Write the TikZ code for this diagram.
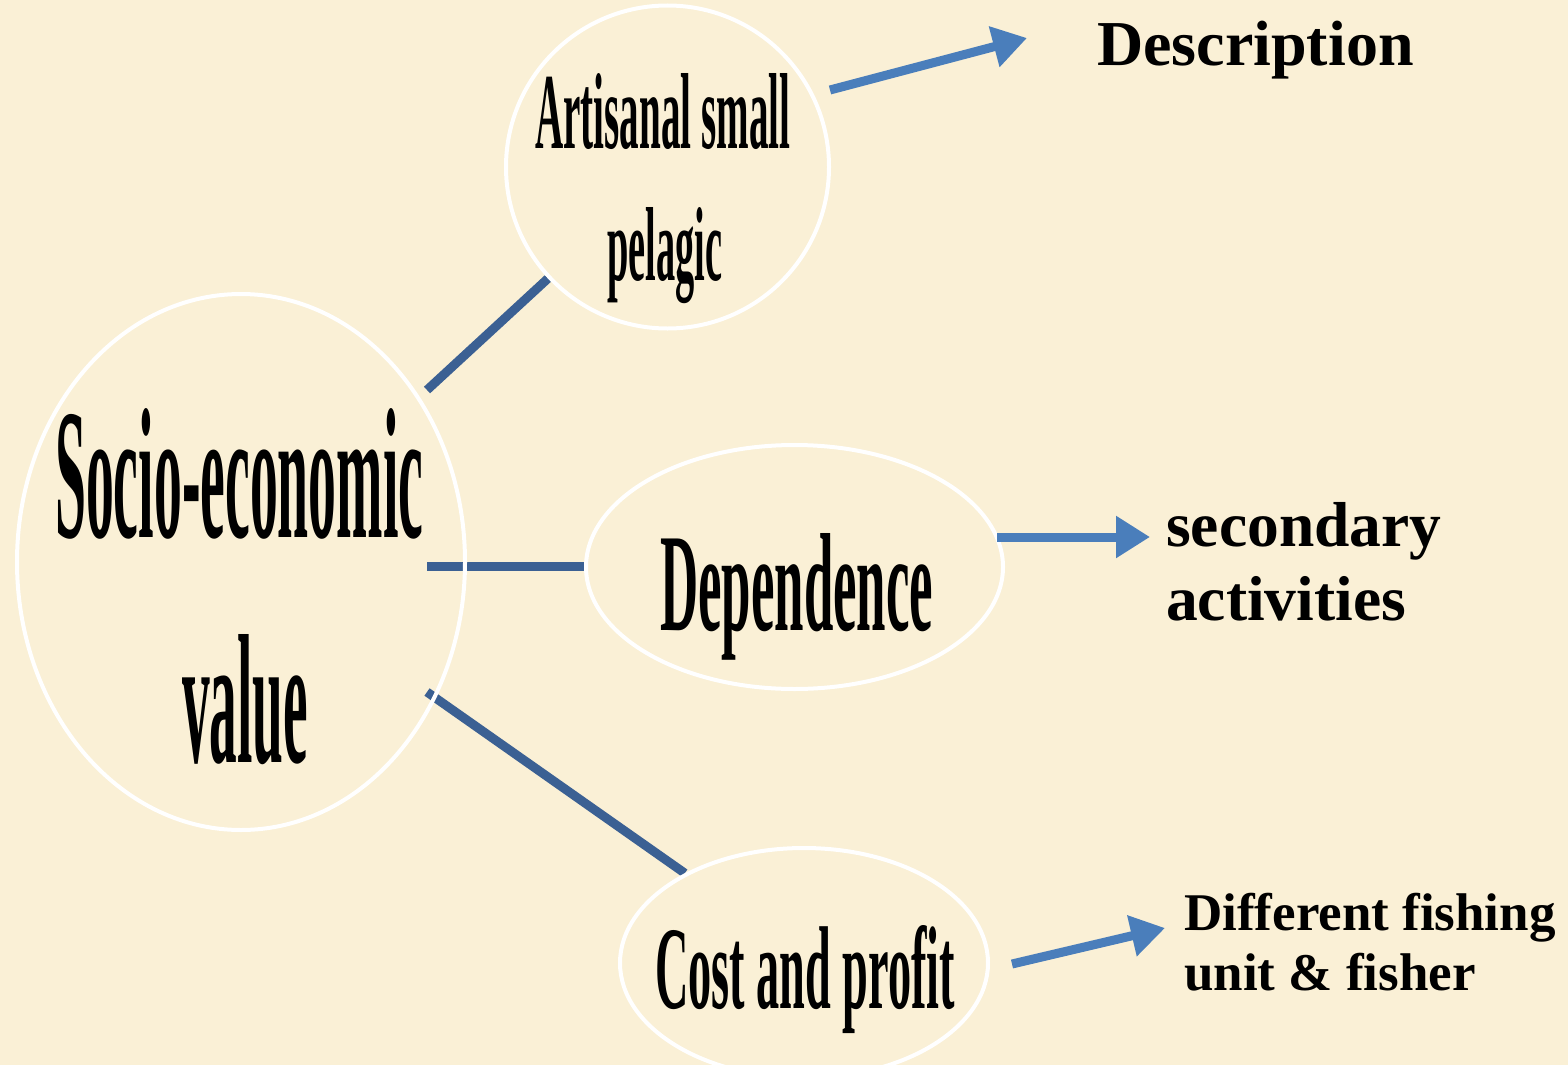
\documentclass[tikz,border=0pt]{standalone}
\usepackage{fontspec}
\setmainfont{Liberation Serif}
\usetikzlibrary{arrows.meta,shapes.geometric}
\pgfdeclarelayer{bg}
\pgfdeclarelayer{lines}
\pgfsetlayers{bg,lines,main}
\definecolor{paper}{RGB}{250,240,214}
\definecolor{linkblue}{RGB}{59,96,147}
\definecolor{arrblue}{RGB}{74,126,187}
\newcommand\sqtext[3]{\resizebox{#1pt}{#2pt}{\bfseries #3}}
\begin{document}
\begin{tikzpicture}[x=1pt,y=-1pt,
  bubble/.style={ellipse, draw=white, line width=4pt, inner sep=0pt},
  link/.style={draw=linkblue, line width=9pt},
  arr/.style={draw=arrblue, line width=9pt, -{Triangle[length=34pt,width=40pt]}},
  stxt/.style={anchor=base west, inner sep=0pt},
  lbl/.style={anchor=base west, inner sep=0pt, font=\bfseries\fontsize{63.5}{74}\selectfont},
  lbls/.style={anchor=base west, inner sep=0pt, font=\bfseries\fontsize{53}{57}\selectfont}
]
\useasboundingbox (0,0) rectangle (1568,1065);
\begin{pgfonlayer}{bg}
  \fill[paper] (0,0) rectangle (1568,1065);
\end{pgfonlayer}

% bubbles
\node[bubble, minimum width=448pt, minimum height=536pt] (soc) at (241,562) {};
\node[bubble, minimum width=323pt, minimum height=323pt] (art) at (667.5,167) {};
\node[bubble, minimum width=417pt, minimum height=244pt] (dep) at (794.5,567) {};
\node[bubble, minimum width=368pt, minimum height=230pt] (cost) at (804,963) {};

% stretched texts inside bubbles
\node[stxt] (socA) at (55,537) {\sqtext{368}{129}{Socio-economic}};
\node[stxt] (socB) at (182,762) {\sqtext{126}{128}{value}};
\node[stxt] (artA) at (535,148) {\sqtext{255}{75}{Artisanal small}};
\node[stxt] (artB) at (607,280) {\sqtext{115}{73}{pelagic}};
\node[stxt] (depA) at (660,630) {\sqtext{273}{97}{Dependence}};
\node[stxt] (costA) at (655,1008) {\sqtext{300}{83}{Cost and profit}};

% right-hand labels
\node[lbl, font=\bfseries\fontsize{64}{74}\selectfont] (desc) at (1097,66) {Description};
\node[lbl] (secA) at (1166,546) {secondary};
\node[lbl] (secB) at (1166,620) {activities};
\node[lbls] (difA) at (1184,930) {Different fishing};
\node[lbls] (difB) at (1184,990) {unit \& fisher};

% connector end points
\coordinate (l1s) at (427,390);
\coordinate (l2s) at (427,566);
\coordinate (l3s) at (427,692);
\coordinate (a1s) at (830,90);
\coordinate (a1e) at (1027,38);
\coordinate (a2s) at (997,537);
\coordinate (a2e) at (1150,537);
\coordinate (a3s) at (1012,964);
\coordinate (a3e) at (1165,928);

\begin{pgfonlayer}{lines}
  \draw[link] (l1s) -- (art.223);
  \draw[link] (l2s) -- (l2s -| dep.west);
  \draw[link] (l3s) -- (cost.143);
\end{pgfonlayer}

\draw[arr] (a1s) -- (a1e);
\draw[arr] (a2s) -- (a2e);
\draw[arr] (a3s) -- (a3e);
\end{tikzpicture}
\end{document}
